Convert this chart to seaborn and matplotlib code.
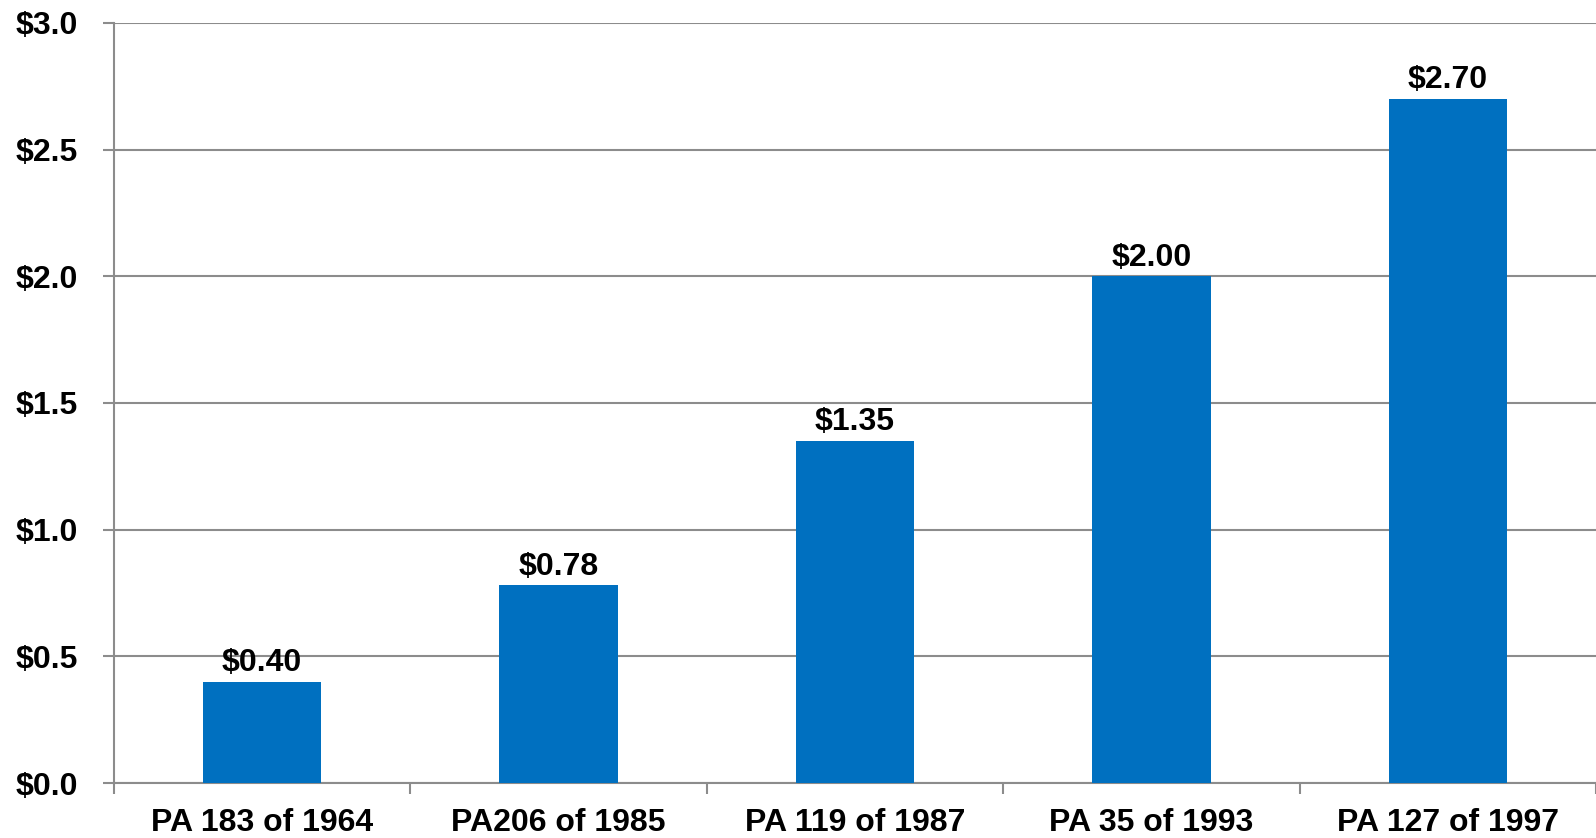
import matplotlib.pyplot as plt
import seaborn as sns
import pandas as pd

# dados do gráfico
categorias = ['PA 183 of 1964', 'PA206 of 1985', 'PA 119 of 1987', 'PA 35 of 1993', 'PA 127 of 1997']
valores = [0.40, 0.78, 1.35, 2.00, 2.70]
yticks = [0.0, 0.5, 1.0, 1.5, 2.0, 2.5, 3.0]

df = pd.DataFrame({'categoria': categorias, 'valor': valores})

sns.set_theme(style="white")
plt.rcParams['font.family'] = ['Liberation Sans', 'DejaVu Sans']
plt.rcParams['font.weight'] = 'bold'

fig = plt.figure(figsize=(15.96, 8.38), dpi=100)
ax = fig.add_axes([0.0714, 0.0656, 0.9286, 0.907])

sns.barplot(data=df, x='categoria', y='valor', color='#0070C0', width=0.4,
            saturation=1, linewidth=0, ax=ax, zorder=3)

ax.set_xlim(-0.5, len(categorias) - 0.5)
ax.set_ylim(0, 3.0)
ax.set_yticks(yticks)
ax.set_yticklabels([f'${v:.1f}' for v in yticks], fontsize=23, fontweight='bold', color='black')
ax.set_xticklabels(categorias, fontsize=23, fontweight='bold', color='black')
ax.set_xlabel('')
ax.set_ylabel('')

# grade horizontal
ax.yaxis.grid(True, color='#8c8c8c', linewidth=1.5, zorder=0)
ax.set_axisbelow(True)

for s in ['top', 'right']:
    ax.spines[s].set_visible(False)
for s in ['left', 'bottom']:
    ax.spines[s].set_color('#8c8c8c')
    ax.spines[s].set_linewidth(1.5)

ax.tick_params(axis='y', which='major', length=8, width=1.5, color='#8c8c8c',
               direction='out', left=True, pad=18)
ax.tick_params(axis='x', which='major', length=0, pad=18)
ax.set_xticks([i - 0.5 for i in range(len(categorias) + 1)], minor=True)
ax.tick_params(axis='x', which='minor', length=8, width=1.5, color='#8c8c8c',
               direction='out', bottom=True)

# rótulos dos valores
for i, v in enumerate(valores):
    ax.text(i, v + 0.015, f'${v:.2f}', ha='center', va='bottom',
            fontsize=23, fontweight='bold', color='black')

fig.savefig('out.png', dpi=100)
